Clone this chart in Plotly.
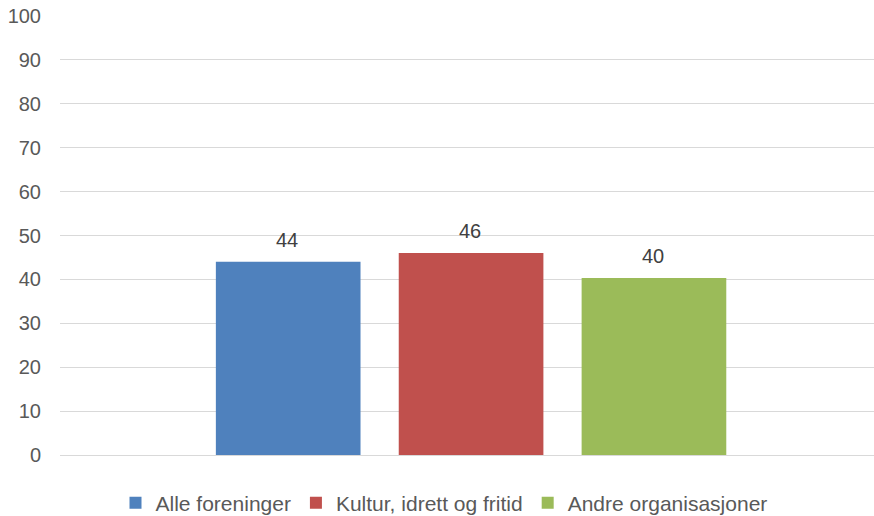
import plotly.graph_objects as go

categories = [""]
series_names = ["Alle foreninger", "Kultur, idrett og fritid", "Andre organisasjoner"]
series_values = [44.0, 46.0, 40.3]
series_colors = ["#4F81BD", "#C0504D", "#9BBB59"]
y_ticks = [0, 10, 20, 30, 40, 50, 60, 70, 80, 90, 100]

FONT = "Liberation Sans, Arial, sans-serif"
W, H = 874, 516
ML, MR, MT, MB = 60, 0, 16, 61
BARGAP, BARGROUPGAP = 0.326, 0.209

fig = go.Figure()
for name, val, col in zip(series_names, series_values, series_colors):
    fig.add_trace(go.Bar(
        x=categories, y=[val], name=name,
        marker=dict(color=col, line=dict(width=0)),
        hovertemplate="%{y}<extra>" + name + "</extra>",
    ))

# data labels above each bar, placed at the bar's value on the library's y scale
slot_px = (1 - BARGAP) / len(series_values) * (W - ML - MR)
for i, val in enumerate(series_values):
    fig.add_annotation(
        x=categories[0], y=val, xref="x", yref="y",
        text=f"{val:.0f}", showarrow=False, yanchor="bottom", xanchor="center",
        xshift=(i - (len(series_values) - 1) / 2) * slot_px + 3, yshift=9,
        font=dict(family=FONT, size=20, color="#404040"),
    )

fig.update_layout(
    width=W, height=H,
    margin=dict(l=ML, r=MR, t=MT, b=MB),
    paper_bgcolor="white", plot_bgcolor="white",
    barmode="group", bargap=BARGAP, bargroupgap=BARGROUPGAP,
    font=dict(family=FONT, size=20, color="#595959"),
    showlegend=True,
    legend=dict(orientation="h", xref="container", yref="container",
                x=444 / W, xanchor="center", y=13 / H, yanchor="middle",
                font=dict(family=FONT, size=21, color="#595959"),
                itemwidth=30, tracegroupgap=0, bgcolor="rgba(0,0,0,0)"),
    xaxis=dict(type="category", range=[-0.505, 0.495], showgrid=False, showline=False,
               zeroline=False, showticklabels=False, ticks=""),
    yaxis=dict(range=[0, 100], tickvals=y_ticks, showgrid=True, gridcolor="#D9D9D9",
               gridwidth=1.3, zeroline=True, zerolinecolor="#D9D9D9", zerolinewidth=1.3,
               showline=False, ticks="", ticklabelstandoff=18,
               tickfont=dict(family=FONT, size=20, color="#595959")),
)

post = (
    "document.documentElement.style.margin='0';"
    "document.documentElement.style.overflow='hidden';"
    "document.body.style.margin='0';document.body.style.padding='0';"
    "document.body.style.overflow='hidden';"
    "var gd=document.getElementById('{plot_id}');"
    "gd.style.display='block';"
    "gd.parentElement.style.fontSize='0';gd.parentElement.style.lineHeight='0';"
)

fig.write_html("out.html", config={"displayModeBar": False}, post_script=post)
